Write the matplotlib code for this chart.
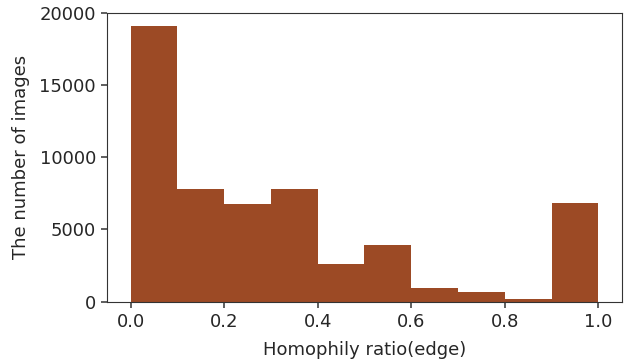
import matplotlib
matplotlib.use("Agg")
import matplotlib.pyplot as plt
import numpy as np
import seaborn as sns

# histogram bins (homophily ratio) and counts
bin_edges = [0.0, 0.1, 0.2, 0.3, 0.4, 0.5, 0.6, 0.7, 0.8, 0.9, 1.0]
counts = [19050, 7800, 6760, 7800, 2610, 3920, 950, 670, 190, 6830]
y_ticks = [0, 5000, 10000, 15000, 20000]

sns.set_style("ticks")
plt.rcParams["font.family"] = ["DejaVu Sans"]

fig, ax = plt.subplots(figsize=(6.27, 3.6), dpi=100)
ax.hist(bin_edges[:-1], bins=bin_edges, weights=counts, color="#9c4a25", linewidth=0)
ax.set_yticks(y_ticks)
ax.set_xlabel("Homophily ratio(edge)", fontsize=13, labelpad=7)
ax.set_ylabel("The number of images", fontsize=13, labelpad=7)
ax.tick_params(labelsize=13, length=4.5, width=1.1, color="#333333")
for s in ax.spines.values():
    s.set_color("#333333")
fig.subplots_adjust(left=0.171, right=0.9915, top=0.965, bottom=0.162)
fig.savefig("out.png", dpi=100)
